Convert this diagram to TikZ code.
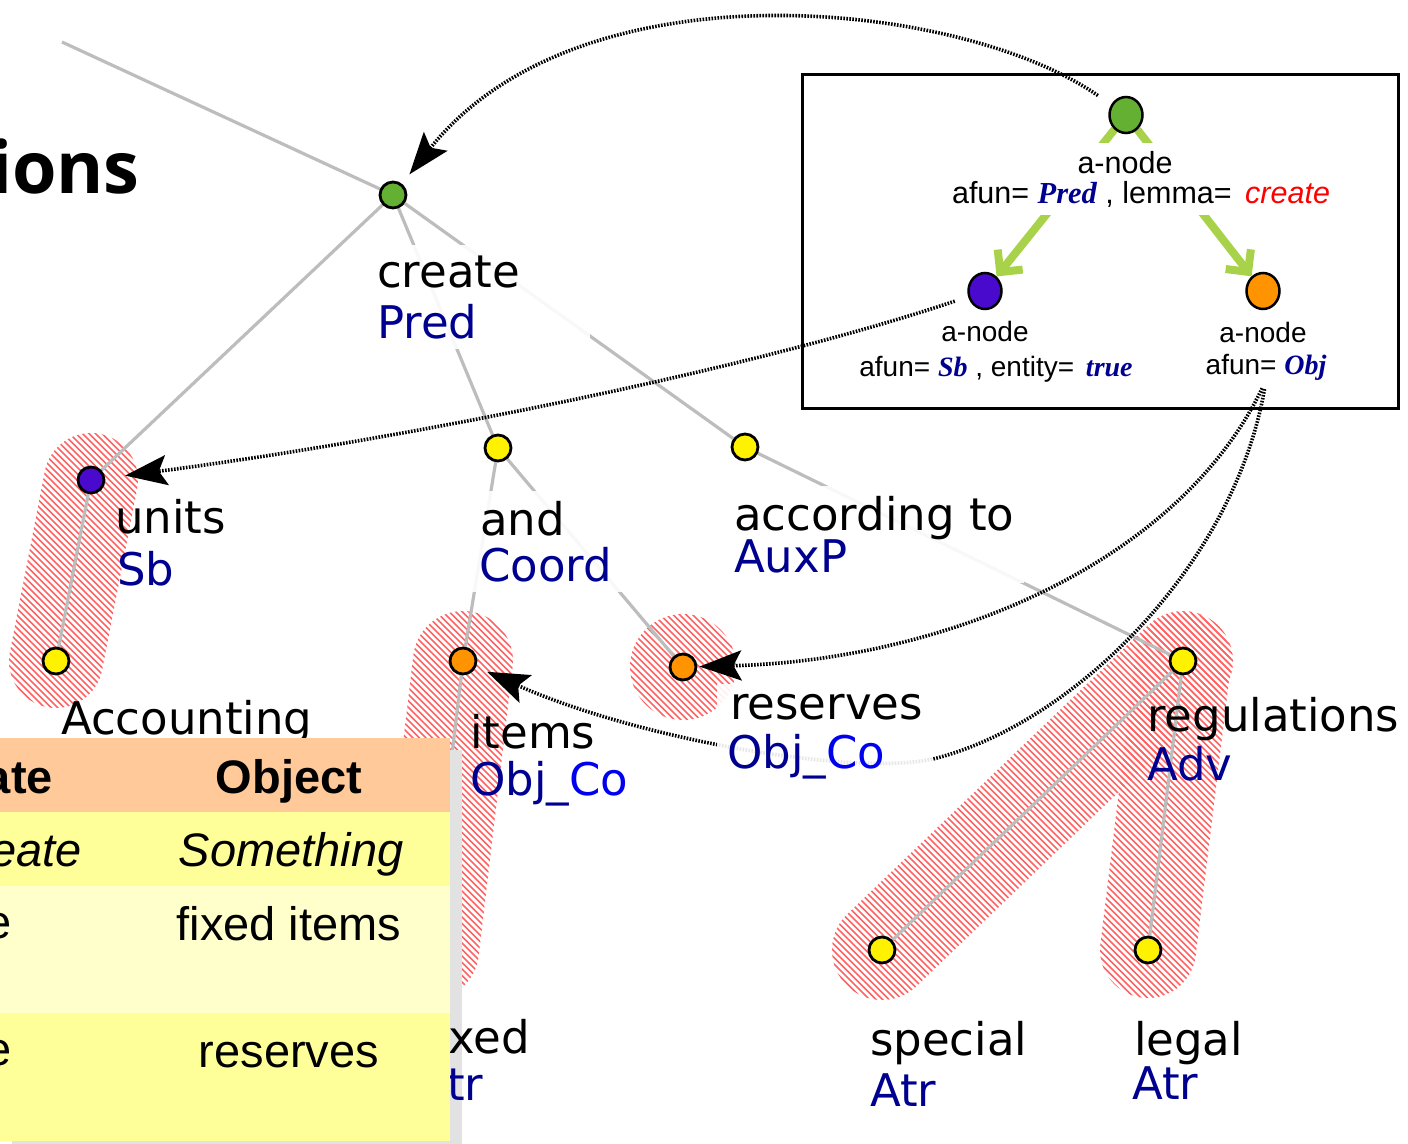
\documentclass[tikz,border=0pt]{standalone}
\usepackage{fontspec}
\setmainfont{DejaVu Sans}
\newfontfamily\arialfam{Liberation Sans}
\newfontfamily\seriffam{Liberation Serif}
\newfontfamily\titlefam{Open Sans}
\usetikzlibrary{arrows.meta,shapes.geometric,fit,calc}

\definecolor{afun}{HTML}{000090}
\definecolor{cofun}{HTML}{0000F0}
\definecolor{nodegreen}{HTML}{63B032}
\definecolor{nodepurple}{HTML}{4A0ACD}
\definecolor{nodeorange}{HTML}{FF9400}
\definecolor{edgegray}{HTML}{BDBDBD}
\definecolor{hatchred}{HTML}{FF6464}
\definecolor{schemagreen}{HTML}{A8D24A}
\definecolor{hdrpeach}{HTML}{FFC999}
\definecolor{rowyellow}{HTML}{FFFF99}
\definecolor{rowpale}{HTML}{FFFFCC}
\definecolor{shadowgray}{HTML}{E2E2E2}

\pgfdeclarelayer{hatching}
\pgfdeclarelayer{edges}
\pgfdeclarelayer{labelbg}
\pgfsetlayers{hatching,edges,labelbg,main}

\newcommand\afunval[1]{{\seriffam\bfseries\itshape\color{afun}#1}}
% diagonal red stripes inside a clipping region
\newcommand\hatchfill[1]{%
  \begin{scope}
    \clip #1;
    \foreach \k in {-178,...,218}
      \draw[hatchline] ({\k*6.5},0) -- ({\k*6.5+1143},1143);
  \end{scope}}
% stadium around the segment between two nodes (side band doubled so the
% union is filled whatever its orientation)
\newcommand\capsulepath[3]{%
  (#1) circle[radius=#3] (#2) circle[radius=#3]
  ($(#1)!#3!90:(#2)$) -- ($(#2)!#3!-90:(#1)$) --
  ($(#2)!#3!90:(#1)$) -- ($(#1)!#3!-90:(#2)$) -- cycle
  ($(#1)!#3!90:(#2)$) -- ($(#2)!#3!-90:(#1)$) --
  ($(#2)!#3!90:(#1)$) -- ($(#1)!#3!-90:(#2)$) -- cycle}

\tikzset{
  tnode/.style={circle, draw=black, line width=2.8pt, minimum size=26pt, inner sep=0pt},
  anode/.style={ellipse, draw=black, line width=2.5pt, minimum width=33pt, minimum height=36pt, inner sep=0pt},
  treeedge/.style={draw=edgegray, line width=3.2pt},
  word/.style={anchor=base west, inner sep=0pt, font=\fontsize{45}{50}\selectfont},
  fn/.style={word, text=afun},
  lblbg/.style={fill=white, fill opacity=0.9, draw=none, inner sep=10pt},
  link/.style={draw=black, line width=3.6pt, dash pattern=on 1.6pt off 1.4pt,
    -{Stealth[length=42pt,width=30pt,inset=8pt]}},
  hatchline/.style={draw=hatchred, line width=1.7pt},
  schemaarrow/.style={draw=schemagreen, line width=8pt, -{Straight Barb[length=16pt,width=32pt]}},
  atext/.style={anchor=base, inner sep=0pt, font=\arialfam\fontsize{30.5}{34}\selectfont},
  asmall/.style={anchor=base, inner sep=0pt, font=\arialfam\fontsize{28}{32}\selectfont},
  tcell/.style={inner sep=0pt, font=\arialfam\fontsize{47}{54}\selectfont},
}

\begin{document}
\begin{tikzpicture}[x=1pt,y=-1pt]
\useasboundingbox (0,0) rectangle (1408,1143);

% title fragment
\node[anchor=base east, inner sep=0pt, font=\titlefam\bfseries\fontsize{72}{80}\selectfont] (title) at (140,193) {ions};

% ---------- tree nodes ----------
\coordinate (rootparent) at (62,42);
\node[tnode, fill=nodegreen]  (root)  at (393,195) {};
\node[tnode, fill=nodepurple] (units) at (91,480) {};
\node[tnode, fill=yellow]     (acc)   at (56,661) {};
\node[tnode, fill=yellow]     (and)   at (498,448) {};
\node[tnode, fill=yellow]     (accto) at (745,447) {};
\node[tnode, fill=nodeorange] (items) at (463,661) {};
\node[tnode, fill=nodeorange] (res)   at (683,667) {};
\node[tnode, fill=yellow]     (reg)   at (1183,661) {};
\node[tnode, fill=yellow]     (spec)  at (882,950) {};
\node[tnode, fill=yellow]     (legal) at (1148,950) {};
\node[tnode, fill=yellow]     (fixed) at (429,950) {};

% ---------- labels ----------
\node[word] (w-create) at (377,287) {create};
\node[fn]   (f-create) at (377,338) {Pred};
\coordinate (createext) at (580,300);
\node[word] (w-units) at (115,533) {units};
\node[fn]   (f-units) at (117,585) {Sb};
\node[word] (w-acc) at (61,734) {Accounting};
\node[word] (w-and) at (480,535) {and};
\node[fn]   (f-and) at (479,581) {Coord};
\node[word] (w-accto) at (734,530) {according to};
\node[fn]   (f-accto) at (734,572) {AuxP};
\node[word] (w-items) at (470,748) {items};
\node[fn]   (f-items) at (470,795) {Obj\_\textcolor{cofun}{Co}};
\node[word] (w-res) at (730,719) {reserves};
\node[fn]   (f-res) at (727,768) {Obj\_\textcolor{cofun}{Co}};
\node[word] (w-reg) at (1147,731) {regulations};
\node[fn]   (f-reg) at (1147,780) {Adv};
\node[word] (w-spec) at (870,1055) {special};
\node[fn]   (f-spec) at (870,1106) {Atr};
\node[word] (w-legal) at (1134,1055) {legal};
\node[fn]   (f-legal) at (1132,1099) {Atr};
\node[word] (w-fixed) at (420,1053) {fixed};
\node[fn]   (f-fixed) at (417,1100) {Atr};

% ---------- schema box ----------
\node[draw=black, line width=3pt, minimum width=596pt, minimum height=334pt,
      inner sep=0pt, anchor=north west] (schema) at (801,73) {};
\node[anode, fill=nodegreen]  (ag)   at (1126,115) {};
\node[anode, fill=nodepurple] (asb)  at (985,291) {};
\node[anode, fill=nodeorange] (aobj) at (1263,291) {};
\node[atext] (ag-1) at (1125,173) {a-node};
\node[atext] (ag-2) at (1141,203) {afun= \afunval{Pred} , lemma=\hspace{5pt} {\itshape\color{red}create}};
\node[asmall] (asb-1) at (985,341) {a-node};
\node[asmall] (asb-2) at (996,376) {afun= \afunval{Sb} , entity=\hspace{4pt} \afunval{true}};
\node[asmall] (aobj-1) at (1263,342) {a-node};
\node[asmall] (aobj-2) at (1266,374) {afun= \afunval{Obj}};

% ---------- hatched groups ----------
\begin{pgfonlayer}{hatching}
  \hatchfill{\capsulepath{units}{acc}{47pt}}
  \hatchfill{\capsulepath{items}{fixed}{50pt}}
  \hatchfill{(res) circle[radius=53pt]}
  \hatchfill{\capsulepath{reg}{spec}{50pt}}
  \hatchfill{\capsulepath{reg}{legal}{48pt}}
\end{pgfonlayer}

% ---------- edges and links ----------
\begin{pgfonlayer}{edges}
  \draw[treeedge] (rootparent) -- (root);
  \draw[treeedge] (root) -- (units);
  \draw[treeedge] (root) -- (and);
  \draw[treeedge] (root) -- (accto);
  \draw[treeedge] (units) -- (acc);
  \draw[treeedge] (and) -- (items);
  \draw[treeedge] (and) -- (res);
  \draw[treeedge] (items) -- (fixed);
  \draw[treeedge] (accto) -- (reg);
  \draw[treeedge] (reg) -- (spec);
  \draw[treeedge] (reg) -- (legal);

  \draw[schemaarrow] (ag) -- (asb);
  \draw[schemaarrow] (ag) -- (aobj);

  \draw[link, shorten <=16pt, shorten >=12pt] (ag) .. controls (960,0) and (580,-40) .. (root);
  \draw[link, shorten <=14pt, shorten >=20pt] (asb) .. controls (750,370) and (400,440) .. (units);
  \draw[link, shorten <=9pt, shorten >=2pt] (aobj-2.south) .. controls (1180,560) and (950,660) .. (res);
  \coordinate (dip) at (937,758);
  \draw[link, shorten <=9pt, shorten >=12pt] (aobj-2.south) .. controls (1235,560) and (1080,720) .. (dip)
        .. controls (860,778) and (640,740) .. (items);
\end{pgfonlayer}

% ---------- label backgrounds and table shadow ----------
\begin{pgfonlayer}{labelbg}
  \node[lblbg, fit=(w-create)(f-create)(createext)] (bg-create) {};
  \node[lblbg, fit=(w-and)(f-and)] (bg-and) {};
  \node[lblbg, fit=(w-accto)(f-accto)] (bg-accto) {};
  \node[lblbg, fit=(w-res)(f-res)] (bg-res) {};
  \node[fill=white, inner sep=8pt, fit=(ag-1)(ag-2)] (bg-ag) {};
  \fill[shadowgray] (12,750) rectangle (462,1160);
\end{pgfonlayer}

% ---------- table ----------
\fill[hdrpeach]  (-10,738) rectangle (450,812);
\fill[rowyellow] (-10,812) rectangle (450,886);
\fill[rowpale]   (-10,886) rectangle (450,1013);
\fill[rowyellow] (-10,1013) rectangle (450,1141);
\node[tcell, anchor=base east, font=\arialfam\bfseries\fontsize{47}{54}\selectfont] (h1) at (53,793) {ate};
\node[tcell, anchor=base, font=\arialfam\bfseries\fontsize{47}{54}\selectfont] (h2) at (289,793) {Object};
\node[tcell, anchor=base east, font=\arialfam\itshape\fontsize{47}{54}\selectfont] (r1a) at (82,866) {eate};
\node[tcell, anchor=base, font=\arialfam\itshape\fontsize{47}{54}\selectfont] (r1b) at (291,866) {Something};
\node[tcell, anchor=base east] (r2a) at (12,938) {e};
\node[tcell, anchor=base] (r2b) at (289,940) {fixed items};
\node[tcell, anchor=base east] (r3a) at (12,1065) {e};
\node[tcell, anchor=base] (r3b) at (289,1067) {reserves};
\end{tikzpicture}
\end{document}
